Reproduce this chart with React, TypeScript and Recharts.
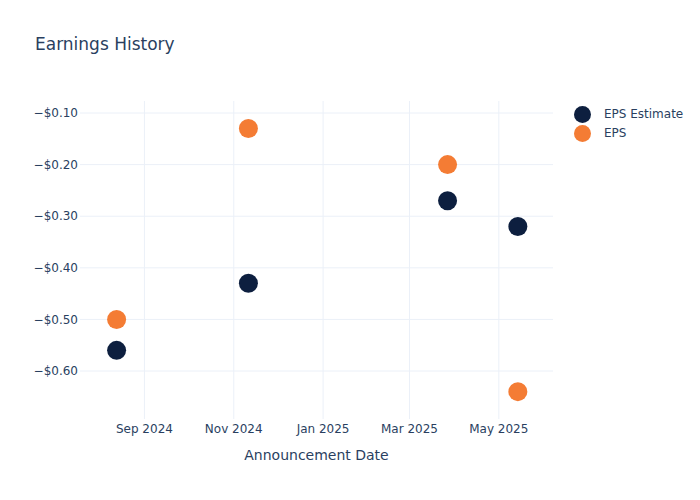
import React from 'react';
import { ScatterChart, Scatter, XAxis, YAxis, ReferenceLine } from 'recharts';

const announcementDates = ['2024-08-13', '2024-11-11', '2025-03-27', '2025-05-14'];
const epsEstimate = [-0.56, -0.43, -0.27, -0.32];
const epsActual = [-0.5, -0.13, -0.2, -0.64];
const xTickDates = ['2024-09-01', '2024-11-01', '2025-01-01', '2025-03-01', '2025-05-01'];
const yTicks = [-0.6, -0.5, -0.4, -0.3, -0.2, -0.1];
const xDomainDates = ['2024-07-19', '2025-06-07'];
const yDomain = [-0.693, -0.0767];

const MONTHS = ['Jan', 'Feb', 'Mar', 'Apr', 'May', 'Jun', 'Jul', 'Aug', 'Sep', 'Oct', 'Nov', 'Dec'];
const ts = (s: string) => Date.parse(s + 'T00:00:00Z');

const estimateData = announcementDates.map((d, i) => ({ x: ts(d), y: epsEstimate[i] }));
const epsData = announcementDates.map((d, i) => ({ x: ts(d), y: epsActual[i] }));

const NAVY = '#0d1f3f';
const ORANGE = '#f47c34';
const TEXT = '#2a3f5f';
const GRID = '#ebf0f8';
const FONT = '"DejaVu Sans", "Open Sans", Verdana, Arial, sans-serif';

const fmtDate = (v: number) => {
  const d = new Date(v);
  return `${MONTHS[d.getUTCMonth()]} ${d.getUTCFullYear()}`;
};
const fmtMoney = (v: number) => (v < 0 ? '\u2212' : '') + '$' + Math.abs(v).toFixed(2);

const dot = (color: string) => (props: any) => (
  <circle cx={props.cx} cy={props.cy} r={9.5} fill={color} />
);

export default function App() {
  return (
    <div style={{ position: 'absolute', left: 0, top: 0, width: 700, height: 500, background: '#fff', fontFamily: FONT }}>
      <ScatterChart width={700} height={500} margin={{ top: 101, right: 147, bottom: 0, left: 0 }}>
        <XAxis
          type="number"
          dataKey="x"
          domain={[ts(xDomainDates[0]), ts(xDomainDates[1])]}
          ticks={xTickDates.map(ts)}
          tickFormatter={fmtDate}
          axisLine={false}
          tickLine={false}
          tickSize={0}
          tickMargin={5}
          height={81}
          tick={{ fill: TEXT, fontSize: 12, fontFamily: FONT }}
          allowDataOverflow
        />
        <YAxis
          type="number"
          dataKey="y"
          domain={yDomain}
          ticks={yTicks}
          tickFormatter={fmtMoney}
          axisLine={false}
          tickLine={false}
          tickSize={0}
          tickMargin={2}
          width={80}
          tick={{ fill: TEXT, fontSize: 12, fontFamily: FONT }}
          allowDataOverflow
        />
        {xTickDates.map((d) => (
          <ReferenceLine key={d} x={ts(d)} stroke={GRID} strokeWidth={1} />
        ))}
        {yTicks.map((v) => (
          <ReferenceLine key={v} y={v} stroke={GRID} strokeWidth={1} />
        ))}
        <Scatter name="EPS Estimate" data={estimateData} fill={NAVY} shape={dot(NAVY)} isAnimationActive={false} />
        <Scatter name="EPS" data={epsData} fill={ORANGE} shape={dot(ORANGE)} isAnimationActive={false} />
      </ScatterChart>
      <div style={{ position: 'absolute', left: 35, top: 34, fontSize: 17, color: TEXT, whiteSpace: 'nowrap' }}>Earnings History</div>
      <div style={{ position: 'absolute', left: 80, width: 473, top: 447, fontSize: 14, color: TEXT, textAlign: 'center' }}>Announcement Date</div>
      {[
        { name: 'EPS Estimate', color: NAVY, y: 114 },
        { name: 'EPS', color: ORANGE, y: 133 },
      ].map((it) => (
        <div key={it.name} style={{ position: 'absolute', left: 574, top: it.y - 9, height: 18, display: 'flex', alignItems: 'center' }}>
          <div style={{ width: 17, height: 17, borderRadius: '50%', background: it.color }} />
          <span style={{ marginLeft: 13, fontSize: 12, color: TEXT, whiteSpace: 'nowrap' }}>{it.name}</span>
        </div>
      ))}
    </div>
  );
}
